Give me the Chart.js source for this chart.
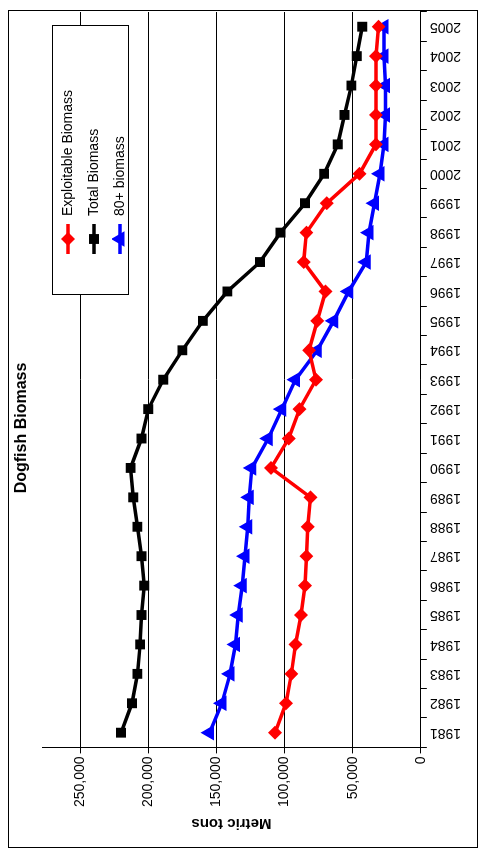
<!DOCTYPE html>
<html><head><meta charset="utf-8">
<script src="https://cdn.jsdelivr.net/npm/chart.js@4"></script>
<style>
body{margin:0;width:478px;height:856px;overflow:hidden;background:#fff;font-family:"Liberation Sans",Arial,sans-serif}
#wrap{position:absolute;left:0;top:0;width:856px;height:478px;transform-origin:0 0;transform:translate(0,856px) rotate(-90deg)}
#frame{position:absolute;left:8px;top:8px;width:836px;height:468px;border:1px solid #000}
#title{position:absolute;left:0;width:856px;top:12px;text-align:center;font-weight:bold;font-size:16px}
#legend{position:absolute;left:561px;top:52px;width:268px;height:75px;border:1px solid #000;background:#fff;font-size:14px}
.it{position:absolute;left:40px;height:20px;line-height:20px}
.it canvas{vertical-align:middle;margin-right:8px}
</style></head><body>
<div id="wrap">
<div id="frame"></div>
<div id="title">Dogfish Biomass</div>
<canvas id="c" width="856" height="478"></canvas>
<div id="legend"></div>
</div>
<script>
const years = ['1981','1982','1983','1984','1985','1986','1987','1988','1989','1990','1991','1992','1993','1994','1995','1996','1997','1998','1999','2000','2001','2002','2003','2004','2005'];
const exploitable = [107000,99000,95000,92000,88000,85000,84000,83000,81000,110000,97000,89000,77000,82000,76000,70000,86000,84000,69000,45000,33000,33000,33000,33000,31000];
const total = [220000,212000,208000,206000,205000,203000,205000,208000,211000,213000,205000,200000,189000,175000,160000,142000,118000,103000,85000,71000,61000,56000,51000,47000,43000];
const plus80 = [155000,146000,140000,136000,134000,131000,129000,127000,126000,124000,112000,102000,92000,76000,64000,53000,40000,38000,34000,30000,27000,26000,26000,27000,27000];
const yTicks = [0,50000,100000,150000,200000,250000];

const series = [
  {label:'Exploitable Biomass', data:exploitable, color:'#ff0000', style:'rectRot', r:4.5},
  {label:'Total Biomass', data:total, color:'#000000', style:'rect', r:4.5},
  {label:'80+ biomass', data:plus80, color:'#0000ff', style:'triangle', r:5.5}
];

new Chart(document.getElementById('c'), {
  type:'line',
  data:{labels:years, datasets:series.map(s=>({label:s.label,data:s.data,borderColor:s.color,backgroundColor:s.color,
    borderWidth:3.5,pointStyle:s.style,pointRadius:s.r,pointHoverRadius:s.r,tension:0}))},
  options:{
    responsive:false,animation:false,
    layout:{padding:{left:20,right:12,top:42,bottom:14}},
    plugins:{legend:{display:false},title:{display:false},tooltip:{enabled:false}},
    scales:{
      x:{offset:true,grid:{display:true,drawOnChartArea:false,offset:true,color:'#000',tickLength:6},
        border:{color:'#000'},
        ticks:{color:'#000',font:{size:14,family:'Liberation Sans'},maxRotation:90,minRotation:90,autoSkip:false}},
      y:{min:0,max:278000,afterBuildTicks:a=>{a.ticks=yTicks.map(v=>({value:v}));},
        grid:{color:'#000',tickLength:6},border:{color:'#000'},
        title:{display:true,text:'Metric tons',color:'#000',font:{size:15,weight:'bold',family:'Liberation Sans'}},
        ticks:{color:'#000',font:{size:14,family:'Liberation Sans'},callback:v=>v.toLocaleString('en-US')}}
    }
  }
});

const leg = document.getElementById('legend');
series.forEach((s,i)=>{
  const d = document.createElement('div'); d.className='it'; d.style.top=(4+i*26)+'px';
  const c = document.createElement('canvas'); c.width=30; c.height=16;
  const g = c.getContext('2d'); g.strokeStyle=s.color; g.lineWidth=3.5;
  g.beginPath(); g.moveTo(0,8); g.lineTo(30,8); g.stroke();
  g.fillStyle=s.color;
  Chart.helpers.drawPoint(g,{pointStyle:s.style,radius:s.r,borderWidth:1,rotation:0},15,8);
  d.appendChild(c); d.appendChild(document.createTextNode(s.label)); leg.appendChild(d);
});
</script>
</body></html>
